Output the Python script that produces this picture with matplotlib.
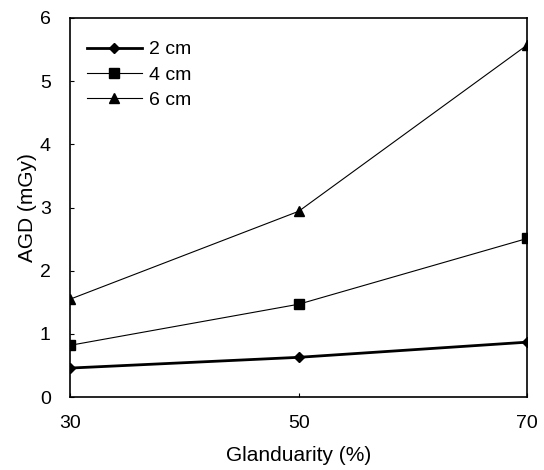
import matplotlib.pyplot as plt

plt.rcParams['font.family'] = ['Liberation Sans', 'DejaVu Sans']

glandularity = [30, 50, 70]
agd_2cm = [0.46, 0.63, 0.87]
agd_4cm = [0.82, 1.47, 2.51]
agd_6cm = [1.55, 2.94, 5.57]

fig = plt.figure(figsize=(5.44, 4.70), dpi=100)
ax = fig.add_axes([0.129, 0.155, 0.84, 0.807])

ax.plot(glandularity, agd_2cm, color='black', lw=2.0, marker='D', ms=5, label='2 cm')
ax.plot(glandularity, agd_4cm, color='black', lw=0.8, marker='s', ms=7, label='4 cm')
ax.plot(glandularity, agd_6cm, color='black', lw=0.8, marker='^', ms=7, label='6 cm')

ax.set_xlim(30, 70)
ax.set_ylim(0, 6)
ax.set_xticks([30, 50, 70])
ax.set_yticks(range(0, 7))
ax.tick_params(direction='in', labelsize=14, length=3)
ax.tick_params(axis='x', pad=13)
ax.tick_params(axis='y', pad=14)
for s in ax.spines.values():
    s.set_linewidth(1.2)

ax.set_xlabel('Glanduarity (%)', fontsize=15, labelpad=10)
ax.set_ylabel('AGD (mGy)', fontsize=15, labelpad=2)

ax.legend(loc='upper left', bbox_to_anchor=(0.02, 0.96), frameon=False, fontsize=14,
          handlelength=2.8, labelspacing=0.4, handletextpad=0.4, borderaxespad=0)

fig.savefig('out.png', dpi=100)
